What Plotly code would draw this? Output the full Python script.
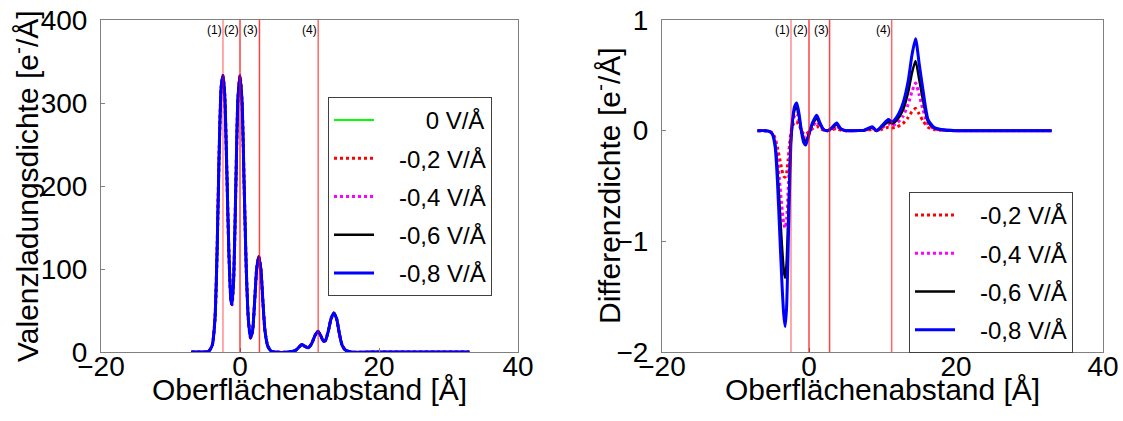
import plotly.graph_objects as go

# ---------------- data ----------------
# Left: valence charge density (all field strengths visually identical)
x_val = [-7, -5, -4.5, -4.0, -3.6, -3.3, -3.0, -2.7, -2.45, -2.2, -1.9, -1.6, -1.3, -1.15,
         -0.9, -0.6, -0.3, 0.0, 0.3, 0.6, 0.9, 1.2, 1.5, 1.8, 2.1, 2.4, 2.7, 3.0, 3.3, 3.6,
         4.0, 4.5, 5, 7, 8, 8.5, 8.9, 9.3, 9.8, 10.3, 10.8, 11.2, 11.6, 12.0, 12.3, 12.7,
         13.1, 13.5, 13.9, 14.3, 14.7, 15.2, 16, 20, 33]
y_val_0 = [0, 0, 1, 8, 40, 120, 240, 320, 333, 310, 220, 120, 62, 57,
           90, 200, 305, 333, 300, 200, 100, 40, 17, 25, 60, 100, 115, 100, 60, 25,
           7, 1, 0, 0, 2, 6, 9, 7, 5, 10, 20, 25, 20, 13, 14, 25,
           40, 47, 40, 22, 8, 2, 0, 0, 0]
y_val_02 = y_val_0
y_val_04 = y_val_0
y_val_06 = y_val_0
y_val_08 = y_val_0

# Right: difference density
x_diff = [-7, -6, -5.5, -5.0, -4.6, -4.3, -4.0, -3.7, -3.45, -3.25, -3.05, -2.85, -2.65,
          -2.45, -2.2, -1.95, -1.67, -1.35, -1.0, -0.7, -0.45, -0.1, 0.4, 1.05, 1.5, 2.0,
          2.5, 3.0, 3.77, 4.3, 5, 6, 7.5, 8.6, 9.2, 10, 10.8, 11.3, 12, 12.8, 13.5, 14.0,
          14.5, 15.0, 15.5, 16.2, 17.0, 18, 20, 25, 33]
y_diff_08 = [0, 0, -0.005, -0.03, -0.15, -0.45, -0.9, -1.35, -1.65, -1.77,
             -1.6, -1.1, -0.55, -0.1, 0.12, 0.22, 0.25, 0.15, -0.02, -0.11,
             -0.13, -0.06, 0.06, 0.14, 0.07, 0.01, 0.0, 0.02, 0.07, 0.02,
             0, 0, 0.005, 0.035, 0.0, 0.05, 0.1, 0.08, 0.13, 0.25,
             0.45, 0.68, 0.83, 0.6, 0.37, 0.1, 0.03, 0.01, 0, 0, 0]
y_diff_06 = [0, 0, -0.004, -0.025, -0.12, -0.35, -0.68, -1.02, -1.25, -1.33,
             -1.2, -0.83, -0.42, -0.08, 0.1, 0.19, 0.21, 0.12, -0.01, -0.08,
             -0.1, -0.045, 0.045, 0.11, 0.055, 0.01, 0, 0.015, 0.055, 0.015,
             0, 0, 0.004, 0.028, 0.0, 0.04, 0.08, 0.065, 0.1, 0.19,
             0.35, 0.52, 0.63, 0.46, 0.28, 0.08, 0.025, 0.008, 0, 0, 0]
y_diff_04 = [0, 0, -0.003, -0.02, -0.09, -0.24, -0.46, -0.68, -0.83, -0.88,
             -0.8, -0.56, -0.28, -0.04, 0.08, 0.14, 0.16, 0.09, 0.0, -0.05,
             -0.065, -0.03, 0.03, 0.08, 0.04, 0.008, 0, 0.01, 0.04, 0.01,
             0, 0, 0.003, 0.02, 0.0, 0.03, 0.06, 0.045, 0.07, 0.13,
             0.24, 0.35, 0.43, 0.32, 0.19, 0.055, 0.017, 0.005, 0, 0, 0]
y_diff_02 = [0, 0, -0.003, -0.02, -0.07, -0.15, -0.25, -0.35, -0.41, -0.42,
             -0.38, -0.27, -0.13, -0.01, 0.05, 0.08, 0.08, 0.05, 0.0, -0.03,
             -0.035, -0.015, 0.015, 0.04, 0.02, 0.004, 0, 0.005, 0.02, 0.005,
             0, 0, 0.002, 0.01, 0.0, 0.015, 0.03, 0.025, 0.035, 0.065,
             0.12, 0.17, 0.2, 0.15, 0.09, 0.03, 0.01, 0.003, 0, 0, 0]

marker_pos = [-2.45, 0.0, 2.8, 11.25]
marker_labels = ["(1)", "(2)", "(3)", "(4)"]
marker_colors = ["rgba(255,0,0,0.45)", "rgba(255,0,0,0.75)", "rgba(255,0,0,0.75)", "rgba(255,0,0,0.6)"]

xticks = [-20, 0, 20, 40]
yticks_left = [0, 100, 200, 300, 400]
yticks_right = [-2, -1, 0, 1]

x_title = "Oberflächenabstand [Å]"
y_title_left = "Valenzladungsdichte [e<sup>-</sup>/Å]"
y_title_right = "Differenzdichte [e<sup>-</sup>/Å]"

nb = "\u00a0"
left_names = [nb * 7 + "0 V/Å", nb * 3 + "-0,2 V/Å", nb * 3 + "-0,4 V/Å",
              nb * 3 + "-0,6 V/Å", nb * 3 + "-0,8 V/Å"]
right_names = [nb * 3 + "-0,2 V/Å", nb * 3 + "-0,4 V/Å", nb * 3 + "-0,6 V/Å", nb * 3 + "-0,8 V/Å"]

# ---------------- figure ----------------
W, H = 1123, 421
FONT = "Liberation Sans, Arial, sans-serif"
fig = go.Figure()

left_series = [
    (y_val_0, left_names[0], "#00ff00", "solid", 2),
    (y_val_02, left_names[1], "#ff0000", "dot", 3),
    (y_val_04, left_names[2], "#ff00ff", "dot", 3),
    (y_val_06, left_names[3], "#000000", "solid", 2.5),
    (y_val_08, left_names[4], "#0000ff", "solid", 3),
]
for i, (ys, name, col, dash, w) in enumerate(left_series):
    fig.add_trace(go.Scatter(
        x=x_val, y=ys, name=name, mode="lines",
        line=dict(color=col, dash=dash, width=w, shape="spline", smoothing=0.6),
        xaxis="x", yaxis="y", legend="legend", legendgroup=f"L{i}"))

right_series = [
    (y_diff_02, right_names[0], "#ff0000", "dot", 3),
    (y_diff_04, right_names[1], "#ff00ff", "dot", 3),
    (y_diff_06, right_names[2], "#000000", "solid", 2.5),
    (y_diff_08, right_names[3], "#0000ff", "solid", 3),
]
for i, (ys, name, col, dash, w) in enumerate(right_series):
    fig.add_trace(go.Scatter(
        x=x_diff, y=ys, name=name, mode="lines",
        line=dict(color=col, dash=dash, width=w, shape="spline", smoothing=0.6),
        xaxis="x2", yaxis="y2", legend="legend2", legendgroup=f"R{i}"))

def dx(a, b):
    return [a / W, b / W]

ydom = [(H - 352) / H, (H - 20) / H]

axis_common = dict(
    showline=True, linecolor="#808080", linewidth=1, mirror=True,
    ticks="inside", ticklen=4, tickcolor="#808080",
    showgrid=False, zeroline=False, automargin=False,
    tickfont=dict(family=FONT, size=28, color="black"),
)
TITLE_SIZE = 30
legend_common = dict(
    xanchor="left", yanchor="top",
    bordercolor="#404040", borderwidth=1, bgcolor="white",
    font=dict(family=FONT, size=24), itemwidth=40, tracegroupgap=4,
    traceorder="grouped",
)

fig.update_layout(
    width=W, height=H,
    margin=dict(l=0, r=0, t=0, b=0, autoexpand=False),
    paper_bgcolor="white", plot_bgcolor="white",
    font=dict(family=FONT, color="black"),
    xaxis=dict(domain=dx(101, 518), range=[-20, 40], tickvals=xticks, anchor="y",
               ticklabelstandoff=-11, **axis_common),
    yaxis=dict(domain=ydom, range=[0, 400], tickvals=yticks_left, anchor="x",
               ticklabelstandoff=7, **axis_common),
    xaxis2=dict(domain=dx(662, 1103), range=[-20, 40], tickvals=xticks, anchor="y2",
                ticklabelstandoff=-11, **axis_common),
    yaxis2=dict(domain=ydom, range=[-2, 1], tickvals=yticks_right, anchor="x2",
                ticklabelstandoff=7, **axis_common),
    legend=dict(x=328 / W, y=1 - 97 / H, **legend_common),
    legend2=dict(x=909 / W, y=1 - 192 / H, **legend_common),
)

shapes = []
annotations = []
for xa, ya in [("x", "y"), ("x2", "y2")]:
    for pos, lab, col in zip(marker_pos, marker_labels, marker_colors):
        shapes.append(dict(type="line", xref=xa, yref=f"{ya} domain", x0=pos, x1=pos,
                           y0=0, y1=1, line=dict(color=col, width=1.5), layer="above"))
        annotations.append(dict(xref=xa, yref=f"{ya} domain", x=pos, y=1, text=lab,
                                showarrow=False, xanchor="right", yanchor="top",
                                xshift=1, yshift=-1,
                                font=dict(family=FONT, size=12, color="black")))

# axis titles as annotations (precise placement)
for xa, ya, ytxt, ypx in [("x", "y", y_title_left, 25), ("x2", "y2", y_title_right, 607)]:
    annotations.append(dict(xref=f"{xa} domain", yref="paper", x=0.5, y=1 - 389 / H,
                            text=x_title, showarrow=False, xanchor="center", yanchor="middle",
                            font=dict(family=FONT, size=TITLE_SIZE, color="black")))
    annotations.append(dict(xref="paper", yref=f"{ya} domain", x=ypx / W, y=0.5,
                            text=ytxt, showarrow=False, textangle=-90,
                            xanchor="center", yanchor="middle",
                            font=dict(family=FONT, size=TITLE_SIZE, color="black")))
fig.update_layout(shapes=shapes, annotations=annotations)

fig.write_html("out.html")
